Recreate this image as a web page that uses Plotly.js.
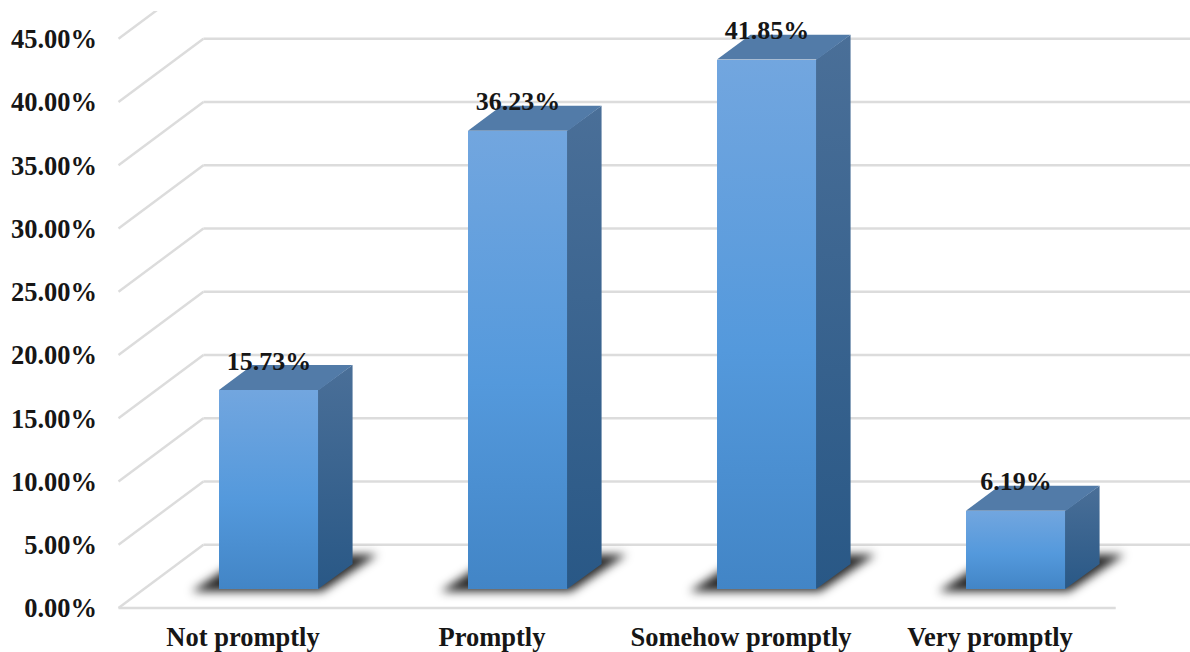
<!DOCTYPE html>
<html>
<head>
<meta charset="utf-8">
<script src="https://cdn.plot.ly/plotly-3.0.1.min.js"></script>
<style>html,body{margin:0;padding:0;background:#fff}#chart{width:1190px;height:652px}</style>
</head>
<body>
<div id="chart"></div>
<script>
const categories = ['Not promptly', 'Promptly', 'Somehow promptly', 'Very promptly'];
const values = [15.73, 36.23, 41.85, 6.19];
const yTicks = [0, 5, 10, 15, 20, 25, 30, 35, 40, 45];

// Oblique projection: how far one unit of depth moves a point on the axes.
const DEPTH_X = 0.341, DEPTH_Y = 5;
const BAR_SHIFT = 0.1044, BAR_BASE = 1.5, BAR_DEPTH = 0.395;   // bar footprint within the floor
const BAR_WIDTH = 0.402;
const FLOOR_RIGHT = 3.505, WALL_RIGHT = 3.9, FLOOR_LEFT = -0.5;
const Y_PER_PX = 1 / 12.65;

const font = (size) => ({family: '"Liberation Serif", serif', size, color: '#161616', weight: 700});

const px = (x, d) => x + d * DEPTH_X;
const py = (y, d) => y + d * DEPTH_Y;
const frontCentre = (i) => i + BAR_SHIFT;

// Floor and wall grid, behind everything else.
const shapes = [];
const gridLine = {color: '#dcdcdc', width: 2.4};
yTicks.forEach((t) => {
  shapes.push({type: 'line', layer: 'below', xref: 'x', yref: 'y',
    x0: FLOOR_LEFT, y0: t, x1: px(FLOOR_LEFT, 1), y1: py(t, 1), line: gridLine});
  shapes.push({type: 'line', layer: 'below', xref: 'x', yref: 'y',
    x0: px(FLOOR_LEFT, 1), y0: py(t, 1), x1: WALL_RIGHT, y1: py(t, 1), line: gridLine});
});
shapes.push({type: 'line', layer: 'below', xref: 'x', yref: 'y',
  x0: FLOOR_LEFT, y0: 0, x1: FLOOR_RIGHT, y1: 0, line: gridLine});
const gridCount = shapes.length;

// Soft contact shadow on the floor around each bar.
values.forEach((v, i) => {
  const l = frontCentre(i) - BAR_WIDTH / 2, r = frontCentre(i) + BAR_WIDTH / 2;
  const lo = BAR_BASE - 0.2, hi = py(0, BAR_DEPTH) + BAR_BASE + 0.75;
  const path = 'M' + (l - 0.11) + ',' + lo + ' L' + (r + 0.012) + ',' + lo +
    ' L' + (px(r, BAR_DEPTH) + 0.1) + ',' + hi + ' L' + (px(l, BAR_DEPTH) - 0.02) + ',' + hi + ' Z';
  shapes.push({type: 'path', layer: 'below', xref: 'x', yref: 'y', path,
    fillcolor: 'rgba(10,10,10,0.88)', line: {width: 0}});
});

// Front faces: plain bars standing on the shifted base line.
const barTrace = {
  type: 'bar',
  x: categories.map((c, i) => frontCentre(i)),
  y: values,
  base: values.map(() => BAR_BASE),
  width: BAR_WIDTH,
  marker: {color: '#5499dc', line: {width: 0}},
  hoverinfo: 'skip'
};

const vGrad = (top, bottom) => ({type: 'vertical', colorscale: [[0, bottom], [1, top]]});

// Side and top faces of each bar; the small overlap hides the seam with the front face.
const SEAM = 0.004;
const sideTraces = values.map((v, i) => {
  const r = frontCentre(i) + BAR_WIDTH / 2;
  const top = BAR_BASE + v;
  return {
    type: 'scatter', mode: 'lines', line: {width: 0}, hoverinfo: 'skip', fill: 'toself',
    x: [r - SEAM, px(r, BAR_DEPTH), px(r, BAR_DEPTH), r - SEAM, r - SEAM],
    y: [BAR_BASE, py(BAR_BASE, BAR_DEPTH), py(top, BAR_DEPTH), top, BAR_BASE],
    fillgradient: vGrad('#4a6f98', '#295886')
  };
});
const topTraces = values.map((v, i) => {
  const l = frontCentre(i) - BAR_WIDTH / 2, r = frontCentre(i) + BAR_WIDTH / 2;
  const top = BAR_BASE + v;
  return {
    type: 'scatter', mode: 'lines', line: {width: 0}, hoverinfo: 'skip', fill: 'toself',
    x: [l, r, px(r, BAR_DEPTH), px(l, BAR_DEPTH), l],
    y: [top, top, py(top, BAR_DEPTH), py(top, BAR_DEPTH), top],
    fillcolor: '#527ba8'
  };
});

// Value labels sit over the back edge of each bar's top.
const labelTrace = {
  type: 'scatter', mode: 'text', hoverinfo: 'skip',
  x: values.map((v, i) => frontCentre(i)),
  y: values.map((v) => py(BAR_BASE + v, BAR_DEPTH) + 2 * Y_PER_PX),
  text: values.map((v) => v.toFixed(2) + '%'),
  textposition: 'middle center',
  textfont: font(26),
  cliponaxis: false
};

const layout = {
  width: 1190, height: 652,
  paper_bgcolor: '#fff', plot_bgcolor: '#fff',
  margin: {l: 100, r: 0, t: 11, b: 32},
  showlegend: false,
  bargap: 0,
  shapes,
  xaxis: {
    range: [-143 / 249, 947 / 249], tickmode: 'array',
    tickvals: categories.map((c, i) => i), ticktext: categories,
    tickfont: font(26.5), ticklen: 0, ticklabelstandoff: -2,
    showgrid: false, zeroline: false, showline: false
  },
  yaxis: {
    range: [-12 * Y_PER_PX, 597 * Y_PER_PX], tickmode: 'array', tickvals: yTicks,
    ticktext: yTicks.map((t) => t.toFixed(2) + '%'),
    tickfont: font(26.5), ticklen: 0, ticklabelstandoff: 2,
    showgrid: false, zeroline: false, showline: false
  }
};

const gd = document.getElementById('chart');
Plotly.newPlot(gd, [barTrace, ...sideTraces, ...topTraces, labelTrace], layout,
  {displayModeBar: false, staticPlot: true}).then(() => {
  // Plotly bars have no gradient option, so the fill is swapped for an SVG one.
  const svg = gd.querySelector('.main-svg');
  const defs = svg.querySelector('defs');
  const ns = 'http://www.w3.org/2000/svg';
  const g = document.createElementNS(ns, 'linearGradient');
  g.setAttribute('id', 'barFace');
  g.setAttribute('x1', '0'); g.setAttribute('y1', '0');
  g.setAttribute('x2', '0'); g.setAttribute('y2', '1');
  [['0', '#72a6df'], ['0.55', '#5499dc'], ['1', '#4285c6']].forEach(([o, c]) => {
    const s = document.createElementNS(ns, 'stop');
    s.setAttribute('offset', o); s.setAttribute('stop-color', c);
    g.appendChild(s);
  });
  defs.appendChild(g);
  gd.querySelectorAll('.barlayer .point path').forEach((p) => { p.style.fill = 'url(#barFace)'; });

  // Blur the floor shadows.
  gd.querySelectorAll('.shapelayer path').forEach((p) => {
    if (+p.getAttribute('data-index') >= gridCount) {
      p.style.filter = 'blur(5px)';
      p.removeAttribute('clip-path');
    }
  });
});
</script>
</body>
</html>
